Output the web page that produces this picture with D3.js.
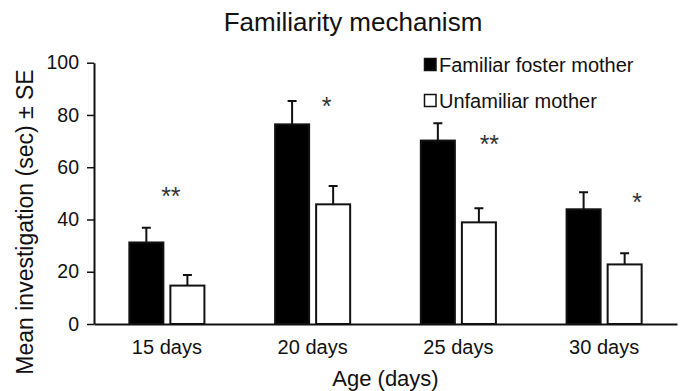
<!DOCTYPE html>
<html>
<head>
<meta charset="utf-8">
<script src="https://cdn.jsdelivr.net/npm/d3@7"></script>
<style>
  body { margin: 0; background: #fff; }
  text { font-family: "Liberation Sans", Arial, sans-serif; fill: #111; }
</style>
</head>
<body>
<div id="chart"></div>
<script>
// data
var ages = ["15 days", "20 days", "25 days", "30 days"];
var seriesNames = ["Familiar foster mother", "Unfamiliar mother"];
var familiarMean = [31.2, 76.4, 70.2, 43.9];
var familiarSE = [5.6, 8.9, 6.6, 6.5];
var unfamiliarMean = [14.7, 45.8, 38.9, 22.8];
var unfamiliarSE = [4.1, 7.0, 5.4, 4.3];
var starLabels = ["**", "*", "**", "*"];
var starLevel = [51, 85.4, 70.8, 48.6];   // y value of the star centre
var yTicks = [0, 20, 40, 60, 80, 100];

var width = 686, height = 391;
var plotLeft = 94, plotRight = 677, plotTop = 62.7, plotBottom = 324;

var svg = d3.select("#chart")
  .append("svg")
  .attr("width", width)
  .attr("height", height);

var x0 = d3.scaleBand()
  .domain(ages)
  .range([plotLeft, plotRight])
  .paddingInner(0.485)
  .paddingOuter(0.2425);

var x1 = d3.scaleBand()
  .domain(seriesNames)
  .range([0, x0.bandwidth()])
  .paddingInner(0.171);

var y = d3.scaleLinear()
  .domain([0, 100])
  .range([plotBottom, plotTop]);

var fills = ["#000", "#fff"];

var bars = [];
ages.forEach(function (a, i) {
  bars.push({ age: a, s: seriesNames[0], v: familiarMean[i], se: familiarSE[i], c: 0 });
  bars.push({ age: a, s: seriesNames[1], v: unfamiliarMean[i], se: unfamiliarSE[i], c: 1 });
});

// y axis
var yAxis = svg.append("g")
  .attr("transform", "translate(" + plotLeft + ",0)")
  .call(d3.axisLeft(y).tickValues(yTicks).tickSize(7).tickSizeOuter(0).tickPadding(8));
yAxis.select(".domain").attr("stroke", "#111").attr("stroke-width", 2);
yAxis.selectAll(".tick line").attr("stroke", "#111").attr("stroke-width", 1.5);
yAxis.selectAll(".tick text").style("font-size", "19.5px").attr("fill", "#111")
  .style("font-family", "'Liberation Sans', Arial, sans-serif");

// error bars (upper only)
var capW = 9;
svg.selectAll(".err")
  .data(bars)
  .enter()
  .append("path")
  .attr("class", "err")
  .attr("fill", "none")
  .attr("stroke", "#111")
  .attr("stroke-width", 2)
  .attr("d", function (d) {
    var cx = x0(d.age) + x1(d.s) + x1.bandwidth() / 2;
    return "M" + cx + "," + y(d.v) + "V" + y(d.v + d.se) +
      "M" + (cx - capW / 2) + "," + y(d.v + d.se) + "H" + (cx + capW / 2);
  });

// bars
svg.selectAll(".bar")
  .data(bars)
  .enter()
  .append("rect")
  .attr("class", "bar")
  .attr("x", function (d) { return x0(d.age) + x1(d.s); })
  .attr("y", function (d) { return y(d.v); })
  .attr("width", x1.bandwidth())
  .attr("height", function (d) { return y(0) - y(d.v); })
  .attr("fill", function (d) { return fills[d.c]; })
  .attr("stroke", "#111")
  .attr("stroke-width", 2);

// x axis
var xAxis = svg.append("g")
  .attr("transform", "translate(0," + plotBottom + ")")
  .call(d3.axisBottom(x0).tickSize(0).tickSizeOuter(0).tickPadding(16));
xAxis.select(".domain").attr("stroke", "#111").attr("stroke-width", 2);
xAxis.selectAll(".tick text").style("font-size", "20px").attr("fill", "#111")
  .style("font-family", "'Liberation Sans', Arial, sans-serif");

// significance stars
var starShift = [4, 14, 31, 33];
svg.selectAll(".star")
  .data(starLabels)
  .enter()
  .append("text")
  .attr("class", "star")
  .attr("x", function (d, i) { return x0(ages[i]) + x0.bandwidth() / 2 + starShift[i]; })
  .attr("y", function (d, i) { return y(starLevel[i]) + 14; })
  .attr("text-anchor", "middle")
  .style("font-size", "25px")
  .style("fill", "#333")
  .text(function (d) { return d; });

// legend
var legend = svg.append("g").attr("transform", "translate(424,58)");
seriesNames.forEach(function (name, i) {
  var g = legend.append("g").attr("transform", "translate(0," + (i * 36) + ")");
  g.append("rect")
    .attr("x", 0.5).attr("y", 0.5)
    .attr("width", 11.5).attr("height", 12)
    .attr("fill", fills[i])
    .attr("stroke", "#111")
    .attr("stroke-width", 1.5);
  g.append("text")
    .attr("x", 15)
    .attr("y", 13.5)
    .style("font-size", "20px")
    .text(name);
});

// title
svg.append("text")
  .attr("x", 353)
  .attr("y", 30.5)
  .attr("text-anchor", "middle")
  .style("font-size", "26px")
  .text("Familiarity mechanism");

// axis titles
svg.append("text")
  .attr("x", (plotLeft + plotRight) / 2)
  .attr("y", 386)
  .attr("text-anchor", "middle")
  .style("font-size", "22px")
  .text("Age (days)");

svg.append("text")
  .attr("transform", "translate(33," + 222 + ") rotate(-90)")
  .attr("text-anchor", "middle")
  .style("font-size", "23px")
  .text("Mean investigation (sec) ± SE");
</script>
</body>
</html>
